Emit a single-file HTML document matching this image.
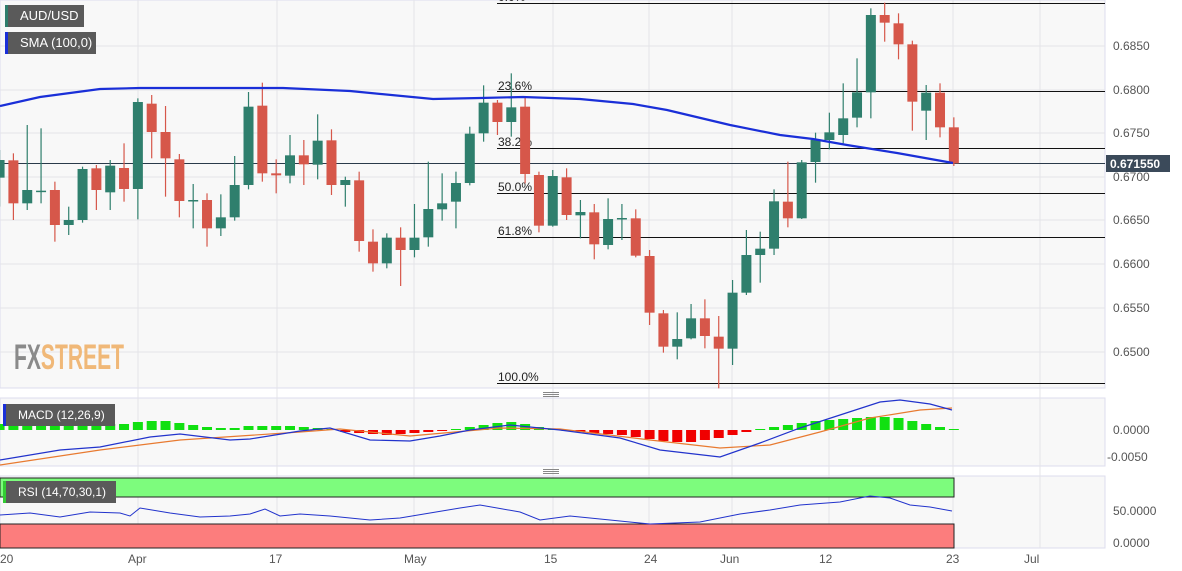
<!DOCTYPE html>
<html><head><meta charset="utf-8"><style>
body{margin:0;width:1182px;height:571px;overflow:hidden;background:#fff;font-family:"Liberation Sans",sans-serif}
.lbl{position:absolute;background:#5a5a5a;color:#fff;font-size:13px;height:22px;line-height:22px;padding-left:12px;box-sizing:border-box}
</style></head><body>
<svg id="s" width="1182" height="571" style="position:absolute;left:0;top:0" font-family="Liberation Sans, sans-serif">
<rect x="0" y="0" width="1105" height="388" fill="#f8f8f8" stroke="#dde"/>
<rect x="0" y="398" width="1105" height="68" fill="#f8f8f8" stroke="#dde"/>
<rect x="0" y="476" width="1105" height="72" fill="#f8f8f8" stroke="#dde"/>
<g id="grid" stroke="#e4e4e8" stroke-width="1"></g>
<g font-size="12" fill="#555">
<text x="1113" y="50">0.6850</text><text x="1113" y="94">0.6800</text><text x="1113" y="137">0.6750</text>
<text x="1113" y="181">0.6700</text><text x="1113" y="224">0.6650</text><text x="1113" y="268">0.6600</text>
<text x="1113" y="312">0.6550</text><text x="1113" y="356">0.6500</text>
<text x="1113" y="434">0.0000</text><text x="1107" y="461">-0.0050</text>
<text x="1113" y="515">50.0000</text><text x="1113" y="547">0.0000</text>
<text x="0" y="563">20</text><text x="128" y="563">Apr</text><text x="269" y="563">17</text><text x="404" y="563">May</text>
<text x="544" y="563">15</text><text x="644" y="563">24</text><text x="720" y="563">Jun</text><text x="819" y="563">12</text>
<text x="946" y="563">23</text><text x="1024" y="563">Jul</text>
</g>
<g stroke="#111" stroke-width="1">
<line x1="497" y1="3.5" x2="1105" y2="3.5"/><line x1="497" y1="91.5" x2="1105" y2="91.5"/><line x1="497" y1="148.5" x2="1105" y2="148.5"/>
<line x1="497" y1="193.5" x2="1105" y2="193.5"/><line x1="497" y1="237.5" x2="1105" y2="237.5"/><line x1="497" y1="383.5" x2="1105" y2="383.5"/>
<line x1="0" y1="163.5" x2="1105" y2="163.5" stroke="#2a3a4a"/>
</g>
<g font-size="12" fill="#222">
<text x="498" y="1">0.0%</text>
<text x="498" y="90">23.6%</text><text x="498" y="146">38.2%</text><text x="498" y="191">50.0%</text>
<text x="498" y="235">61.8%</text><text x="498" y="381">100.0%</text>
</g>
<text x="14" y="369" font-size="35" font-weight="bold" fill="#8a8a8a" textLength="110" lengthAdjust="spacingAndGlyphs">FX<tspan fill="#f0b878">STREET</tspan></text>
<g id="c"></g>
<polyline fill="none" stroke="#1a2fd8" stroke-width="2.2" points="0,106 40,97 100,89 140,88 283,88 350,91 433,99 480,98 523,97 580,99 633,104 667,110 730,125 780,135 813,139 847,145 897,153 953,163"/>
<rect x="1106" y="155" width="64" height="17" fill="#3b4a5a"/>
<text x="1110" y="168" font-size="12" font-weight="bold" fill="#fff">0.671550</text>
<g id="m"></g>
<polyline fill="none" stroke="#e87a30" stroke-width="1.2" points="0,465 100,450 180,440 300,432 340,429 410,436 500,428 560,429 650,440 720,448 770,445 820,432 870,418 920,410 952,408"/>
<polyline fill="none" stroke="#2233cc" stroke-width="1.2" points="0,460 60,450 100,447 150,437 180,434 230,440 250,439 300,431 330,428 370,440 410,441 440,436 470,430 510,425 560,430 620,438 660,450 720,457 760,443 800,428 840,415 880,402 900,400 930,404 952,410"/>
<rect x="0" y="478" width="954" height="19" fill="#7dfc7d" stroke="#222"/>
<rect x="0" y="524" width="954" height="24" fill="#fc7d7d" stroke="#222"/>
<polyline fill="none" stroke="#2233cc" stroke-width="1" points="0,515 30,513 60,517 90,512 120,513 130,516 140,508 170,513 200,517 230,516 250,514 265,509 280,516 300,514 330,516 370,520 400,518 430,513 460,508 480,505 520,512 540,520 570,516 610,520 650,524 700,522 740,514 770,510 800,505 840,502 870,496 890,498 910,505 930,507 952,511"/>
<g fill="#888"><rect x="543" y="392" width="16" height="1"/><rect x="543" y="394" width="16" height="1"/><rect x="543" y="396" width="16" height="1"/>
<rect x="543" y="469" width="16" height="1"/><rect x="543" y="471" width="16" height="1"/><rect x="543" y="473" width="16" height="1"/></g>
</svg>
<div class="lbl" style="left:5px;top:5px;width:79px;border-left:3px solid #2e7d6b">AUD/USD</div>
<div class="lbl" style="left:5px;top:32px;width:91px;border-left:3px solid #1a2fd8">SMA (100,0)</div>
<div class="lbl" style="left:3px;top:404px;width:112px;border-left:3px solid #1a2fd8;font-size:12px">MACD (12,26,9)</div>
<div class="lbl" style="left:3px;top:481px;width:113px;border-left:3px solid #3c3;font-size:12px">RSI (14,70,30,1)</div>
<script>
var NS="http://www.w3.org/2000/svg";
function el(g,t,a){var e=document.createElementNS(NS,t);for(var k in a)e.setAttribute(k,a[k]);document.getElementById(g).appendChild(e);}
[46,90,133,177,220,264,308,352].forEach(function(y){el("grid","line",{x1:0,x2:1105,y1:y,y2:y});});
[138,277,414,553,649,732,829,953,1040].forEach(function(x){el("grid","line",{x1:x,x2:x,y1:0,y2:548});});
var d=[
"g480,533,450,620","r481,610,460,660","g570,610,375,630","g572,575,385,610","r570,675,545,725","g660,675,620,705","g507,660,500,668","r505,570,495,630","g497,577,480,630","r504,567,430,605",
"g306,567,295,658","r311,396,285,475","r396,475,318,590","r478,603,462,652","g600,604,552,685","r600,685,580,740","g652,685,583,708","g555,652,468,662","g320,555,276,568","r317,520,248,545",
"r520,526,478,580","g466,527,405,550","r466,493,420,555","g422,494,343,538","r421,555,388,585","g540,555,530,620","r541,723,515,755","r725,790,688,815","g713,790,700,805","r713,750,682,858",
"g713,750,612,772","g627,712,485,740","g610,628,520,662","g549,605,515,685","g401,549,380,556","g308,400,256,425","r308,366,300,405","g322,366,220,410","r320,522,290,550","r525,677,515,697",
"g528,677,510,680","r532,645,505,660","g636,646,600,715","r637,733,612,778","g657,735,595,748","g654,658,612,720","r655,767,628,772","r768,938,750,975","r940,1040,930,1058","g1017,1040,937,1078",
"g955,1015,912,1018","r955,1008,898,1045","r1010,1046,948,1165","g878,1046,840,1095","g765,878,690,885","g746,765,695,848","g604,746,568,765","r605,655,485,682","g487,655,480,657","g420,486,398,548",
"g397,420,338,448","g355,405,250,430","g277,353,175,382","g45,277,25,355","r45,68,8,125","r70,133,40,178","r133,305,122,392","g278,332,255,420","r278,382,250,412","r382,490,352,498"];
d.forEach(function(s,i){var c=s[0]=="g"?"#2f7f6d":"#d6574a";var v=s.slice(1).split(",").map(function(n){return n/3;});var x=13.4+13.83*(i-1);
el("c","line",{x1:x,x2:x,y1:v[2],y2:v[3],stroke:c,"stroke-width":1.2});
el("c","rect",{x:x-5,y:v[0],width:10,height:Math.max(1.5,v[1]-v[0]),fill:c});});
var h=[6,6,6,6,6,6,6,6,6,6,8,9,9,7,5,3,2,2,4,4,4,4,3,2,1,-2,-3,-4,-5,-4,-3,-2,-1,1,3,5,7,8,6,3,1,0,-2,-3,-4,-5,-7,-9,-11,-12,-12,-10,-8,-5,-2,1,3,5,7,9,10,11,12,13,13,12,9,6,3,1];
h.forEach(function(v,i){var x=13.4+13.83*(i-1);el("m","rect",{x:x-5,y:v>0?430-v:430,width:10,height:Math.abs(v)||1,fill:v>=0?"#11e011":"#f00000"});});
</script>
</body></html>
